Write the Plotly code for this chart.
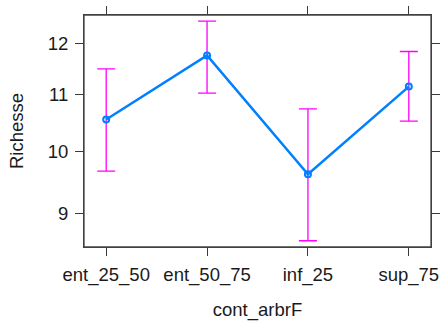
import math
import plotly.graph_objects as go

categories = ["ent_25_50", "ent_50_75", "inf_25", "sup_75"]
fit = [10.55, 11.75, 9.62, 11.15]
upper = [11.49, 12.45, 10.74, 11.83]
lower = [9.67, 11.03, 8.60, 10.52]
y_ticks = [9, 10, 11, 12]

err_plus = [u - f for u, f in zip(upper, fit)]
err_minus = [f - l for f, l in zip(fit, lower)]

fig = go.Figure()
fig.add_trace(go.Scatter(
    x=categories, y=fit, mode="lines+markers",
    line=dict(color="#0080ff", width=2.5),
    marker=dict(symbol="circle-open", size=6, color="#0080ff", line=dict(width=2, color="#0080ff")),
    error_y=dict(type="data", symmetric=False, array=err_plus, arrayminus=err_minus,
                 color="#ff00ff", thickness=1.3, width=9),
    showlegend=False,
))

font = dict(family="Liberation Sans, Arial", size=18.5, color="#1a1a1a")
axis_common = dict(
    showline=True, linecolor="#3a3a3a", linewidth=1, mirror="ticks",
    ticks="outside", ticklen=8, tickwidth=1, tickcolor="#3a3a3a",
    showgrid=False, zeroline=False, automargin=False,
    tickfont=font,
)

fig.add_shape(type="rect", xref="x domain", yref="y domain", x0=0, x1=1, y0=0, y1=1,
              line=dict(color="#444444", width=1.3), fillcolor="rgba(0,0,0,0)", layer="above")

fig.update_layout(
    width=443, height=321,
    margin=dict(l=84, r=12, t=15, b=74, autoexpand=False),
    paper_bgcolor="white", plot_bgcolor="white",
    font=font,
    xaxis=dict(**axis_common, type="category", range=[-0.22, 3.22],
               ticklabelstandoff=3,
               title=dict(text="cont_arbrF", standoff=20, font=font)),
    yaxis=dict(**axis_common, type="log",
               range=[math.log10(8.51), math.log10(12.58)],
               tickvals=y_ticks, ticktext=[str(t) for t in y_ticks],
               ticklabelstandoff=3,
               title=dict(text="Richesse", standoff=19, font=font)),
)

fig.write_html("out.html")
